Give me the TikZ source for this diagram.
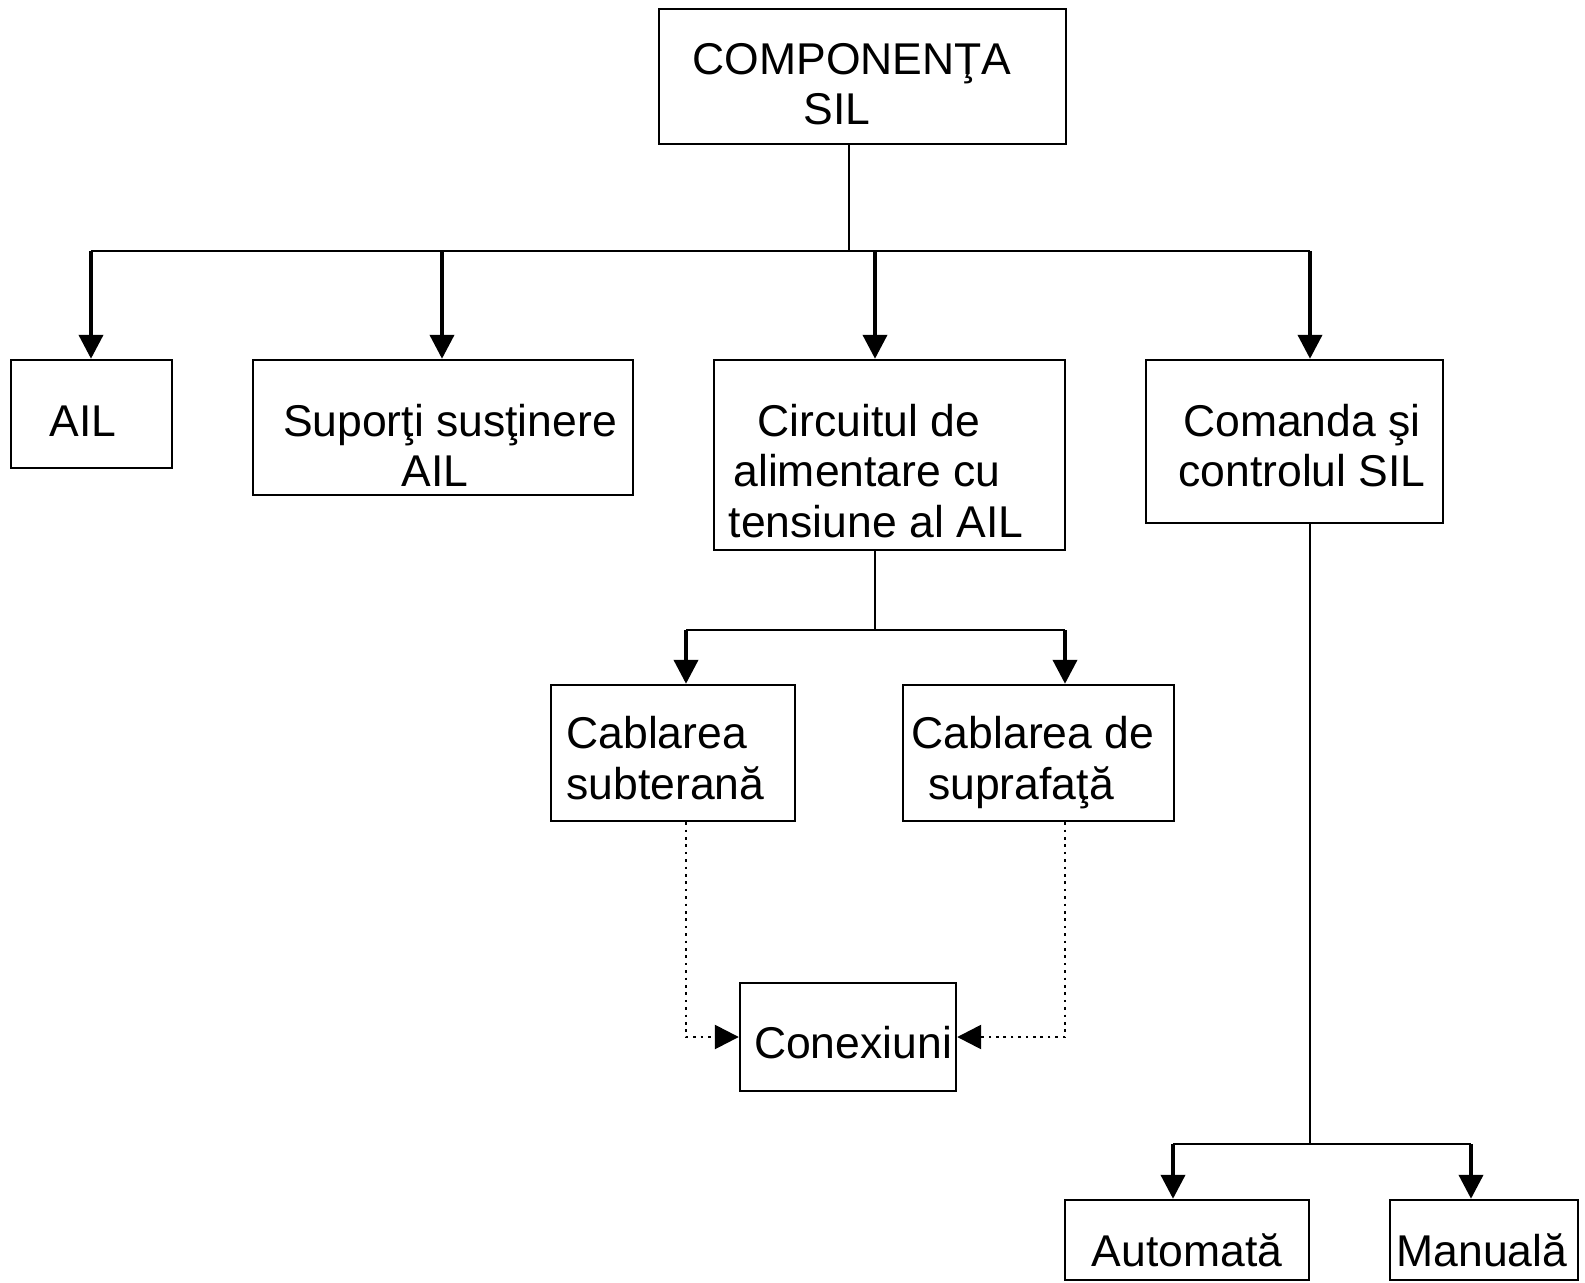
\documentclass[tikz,border=0pt]{standalone}
\usepackage{fontspec}
\setmainfont{Liberation Sans}
\usetikzlibrary{arrows.meta,fit}
\begin{document}
\begin{tikzpicture}[x=0.5pt,y=-0.5pt,
  box/.style={draw,line width=1.2pt,inner sep=0pt},
  lbl/.style={anchor=base,inner sep=0pt,font=\fontsize{22.25pt}{25.6pt}\selectfont},
  conn/.style={line width=1.1pt},
  arr/.style={line width=2pt,-{Triangle[width=12pt,length=12pt]}},
  dots/.style={line width=1.3pt,dash pattern=on 1.3pt off 2.4pt,-{Triangle[width=12pt,length=12pt]}}]

\useasboundingbox[fill=white] (0,0) rectangle (1585,1283);

% boxes
\node[box,fit={(659,9) (1066,144)}] (title) {};
\node[box,fit={(11,360) (172,468)}] (ail) {};
\node[box,fit={(253,360) (633,495)}] (sup) {};
\node[box,fit={(714,360) (1065,550)}] (circ) {};
\node[box,fit={(1146,360) (1443,523)}] (cmd) {};
\node[box,fit={(551,685) (795,821)}] (cabsub) {};
\node[box,fit={(903,685) (1174,821)}] (cabsup) {};
\node[box,fit={(740,983) (956,1091)}] (conex) {};
\node[box,fit={(1065,1200) (1309,1280)}] (auto) {};
\node[box,fit={(1390,1200) (1578,1280)}] (man) {};

% texts
\node[lbl] (title1) at (852,75) {COMPONENŢA};
\node[lbl] (title2) at (837,125) {SIL};
\node[lbl] (ailt) at (83,437) {AIL};
\node[lbl] (sup1) at (450,437) {Suporţi susţinere};
\node[lbl] (sup2) at (435,487) {AIL};
\node[lbl] (circ1) at (869,437) {Circuitul de};
\node[lbl] (circ2) at (867,487) {alimentare cu};
\node[lbl] (circ3) at (876,538) {tensiune al AIL};
\node[lbl] (cmd1) at (1302,437) {Comanda şi};
\node[lbl] (cmd2) at (1302,487) {controlul SIL};
\node[lbl,anchor=base west] (sub1) at (566,748) {Cablarea};
\node[lbl,anchor=base west] (sub2) at (566,799) {subterană};
\node[lbl] (sup3) at (1033,748) {Cablarea de};
\node[lbl] (sup4) at (1021,799) {suprafaţă};
\node[lbl] (conext) at (853,1058) {Conexiuni};
\node[lbl] (autot) at (1187,1266) {Automată};
\node[lbl] (mant) at (1482,1266) {Manuală};

% branch points
\coordinate (bus) at (849,251);
\coordinate (b1) at (91,251);
\coordinate (b2) at (442,251);
\coordinate (b3) at (875,251);
\coordinate (b4) at (1310,251);
\coordinate (c0) at (875,630);
\coordinate (c1) at (686,630);
\coordinate (c2) at (1065,630);
\coordinate (d1) at (686,1037);
\coordinate (d2) at (1065,1037);
\coordinate (m0) at (1310,1144);
\coordinate (m1) at (1173,1144);
\coordinate (m2) at (1471,1144);

% top level
\draw[conn] (title.south -| bus) -- (bus);
\draw[conn] (b1) -- (b4);
\draw[arr] (b1) -- (b1 |- ail.north);
\draw[arr] (b2) -- (b2 |- sup.north);
\draw[arr] (b3) -- (b3 |- circ.north);
\draw[arr] (b4) -- (b4 |- cmd.north);

% supply circuit branch
\draw[conn] (circ.south -| c0) -- (c0);
\draw[conn] (c1) -- (c2);
\draw[arr] (c1) -- (c1 |- cabsub.north);
\draw[arr] (c2) -- (c2 |- cabsup.north);

% connections
\draw[dots] (cabsub.south -| d1) -- (d1) -- (conex.west |- d1);
\draw[dots] (cabsup.south -| d2) -- (d2) -- (conex.east |- d2);

% control branch
\draw[conn] (cmd.south -| m0) -- (m0);
\draw[conn] (m1) -- (m2);
\draw[arr] (m1) -- (m1 |- auto.north);
\draw[arr] (m2) -- (m2 |- man.north);
\end{tikzpicture}
\end{document}
